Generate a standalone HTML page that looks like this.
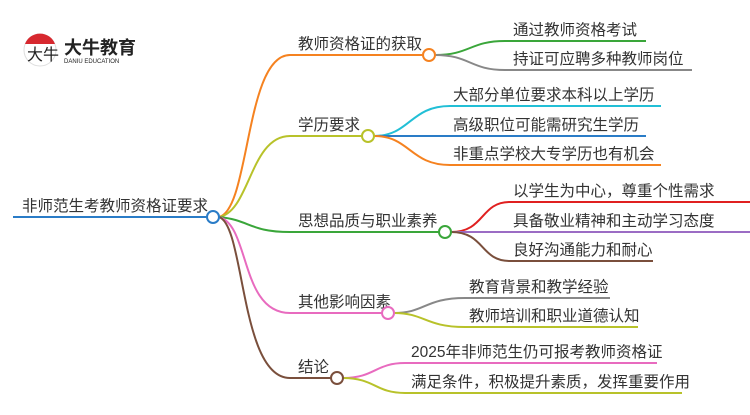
<!DOCTYPE html>
<html><head><meta charset="utf-8"><style>
body{margin:0;background:#fff;width:750px;height:410px;overflow:hidden}
svg text{font-family:"Liberation Sans","Noto Sans CJK SC",sans-serif;font-size:15.5px;fill:#333}
</style></head><body>
<svg width="750" height="410" viewBox="0 0 750 410" xmlns="http://www.w3.org/2000/svg" fill="none" stroke-width="2">
<!-- logo -->
<circle cx="40" cy="50" r="16" fill="#fff" stroke="#ddd" stroke-width="1"/>
<path d="M25 44 A16 16 0 0 1 55 44 Z" fill="#d7282f" stroke="none"/>
<text x="27" y="60" style="font-size:16px;fill:#222">大牛</text>
<text x="64" y="54" style="font-size:18px;font-weight:bold;fill:#222">大牛教育</text>
<text x="64" y="63" style="font-size:6px;fill:#222">DANIU EDUCATION</text>

<!-- root -->
<path d="M13 217 H207" stroke="#2a7cc7"/>
<text x="22" y="211">非师范生考教师资格证要求</text>
<!-- main branches -->
<path d="M219 217 C250 210,245 55,290 55 H423" stroke="#f58220"/>
<path d="M219 217 C250 212,250 136,290 136 H362" stroke="#b8c22a"/>
<path d="M219 217 C250 220,250 232,290 232 H439" stroke="#3aa63a"/>
<path d="M219 217 C250 225,240 313,290 313 H382" stroke="#e86bbf"/>
<path d="M219 217 C245 225,240 378,290 378 H331" stroke="#7a4f3c"/>
<circle cx="213" cy="217" r="6" fill="#fff" stroke="#2a7cc7"/>
<text x="298" y="49">教师资格证的获取</text>
<text x="298" y="130">学历要求</text>
<text x="298" y="226">思想品质与职业素养</text>
<text x="298" y="307">其他影响因素</text>
<text x="298" y="372">结论</text>

<!-- branch1 leaves -->
<path d="M435 55 C470 55,470 41,505 41 H646" stroke="#3aa63a"/>
<path d="M435 55 C470 55,470 70,505 70 H692" stroke="#888"/>
<circle cx="429" cy="55" r="6" fill="#fff" stroke="#f58220"/>
<text x="513" y="35">通过教师资格考试</text>
<text x="513" y="64">持证可应聘多种教师岗位</text>

<!-- branch2 leaves -->
<path d="M374 136 C410 136,410 106,450 106 H661" stroke="#22bfd6"/>
<path d="M374 136 H646" stroke="#2a7cc7"/>
<path d="M374 136 C410 136,410 165,450 165 H661" stroke="#f58220"/>
<circle cx="368" cy="136" r="6" fill="#fff" stroke="#b8c22a"/>
<text x="453" y="100">大部分单位要求本科以上学历</text>
<text x="453" y="130">高级职位可能需研究生学历</text>
<text x="453" y="159">非重点学校大专学历也有机会</text>

<!-- branch3 leaves -->
<path d="M451 232 C485 232,480 202,510 202 H750" stroke="#e02020"/>
<path d="M451 232 H750" stroke="#9b6cc4"/>
<path d="M451 232 C485 232,480 261,510 261 H653" stroke="#7a4f3c"/>
<circle cx="445" cy="232" r="6" fill="#fff" stroke="#3aa63a"/>
<text x="513" y="196">以学生为中心，尊重个性需求</text>
<text x="513" y="226">具备敬业精神和主动学习态度</text>
<text x="513" y="255">良好沟通能力和耐心</text>

<!-- branch4 leaves -->
<path d="M394 313 C425 313,425 298,465 298 H610" stroke="#888"/>
<path d="M394 313 C425 313,425 327,465 327 H638" stroke="#b8c22a"/>
<circle cx="388" cy="313" r="6" fill="#fff" stroke="#e86bbf"/>
<text x="469" y="292">教育背景和教学经验</text>
<text x="469" y="321">教师培训和职业道德认知</text>

<!-- branch5 leaves -->
<path d="M343 378 C375 378,375 363,405 363 H657" stroke="#e86bbf"/>
<path d="M343 378 C375 378,375 393,405 393 H682" stroke="#b8c22a"/>
<circle cx="337" cy="378" r="6" fill="#fff" stroke="#7a4f3c"/>
<text x="411" y="357">2025年非师范生仍可报考教师资格证</text>
<text x="411" y="387">满足条件，积极提升素质，发挥重要作用</text>
</svg>
</body></html>
